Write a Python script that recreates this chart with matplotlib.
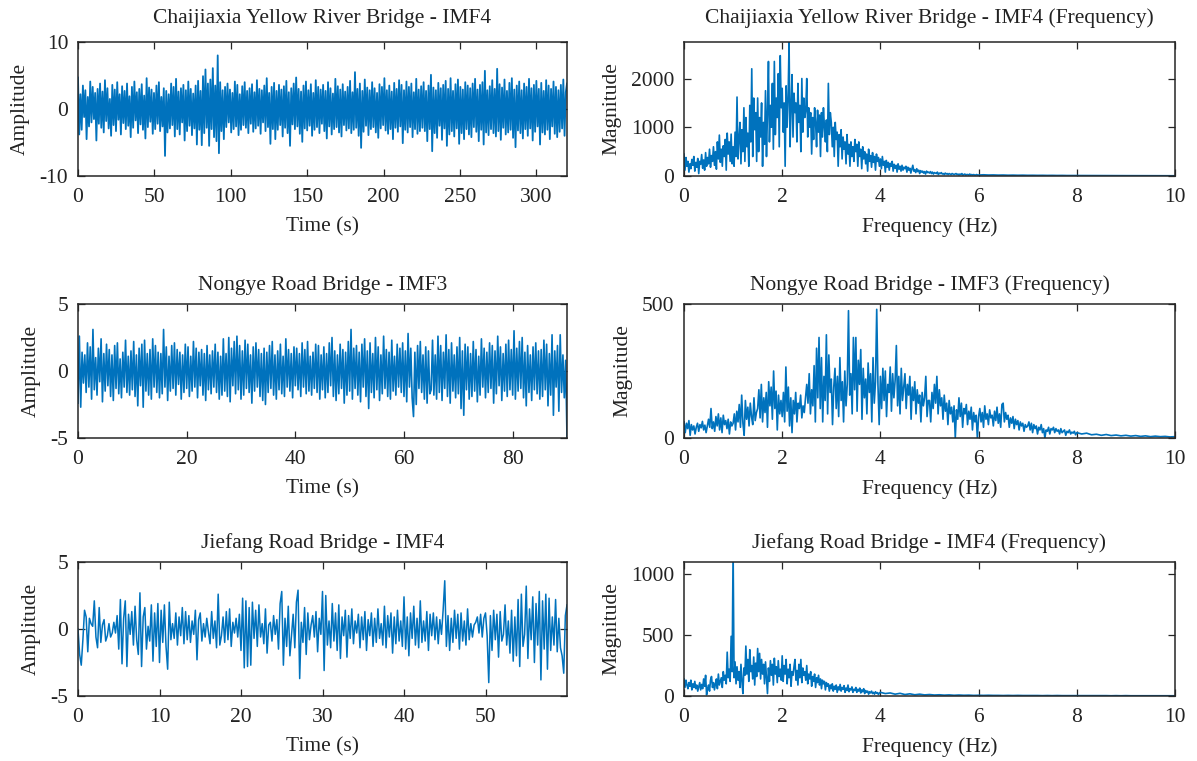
import numpy as np
import matplotlib
matplotlib.use("Agg")
import matplotlib.pyplot as plt

plt.rcParams['font.family'] = ['Liberation Serif', 'DejaVu Serif']
plt.rcParams['axes.unicode_minus'] = False

# ---------------- data ----------------
# Chaijiaxia IMF4, time signal, 0-320 s (tenths)
chai_time = [
 47,-38,22,-31,35,-12,28,-45,18,-26,41,-20,33,-15,24,-47,30,-22,38,-28,
 26,-35,43,-18,31,-29,15,-40,36,-24,29,-33,40,-16,22,-38,34,-21,27,-30,
 38,-25,19,-42,33,-28,41,-17,25,-36,30,-23,37,-31,20,-44,46,-27,32,-19,
 29,-37,24,-30,35,-22,40,-33,18,-26,31,-70,27,-35,22,-29,38,-24,33,-41,
 45,-30,26,-38,31,-20,36,-47,28,-33,41,-25,30,-39,23,-29,35,-53,42,-31,
 27,-54,49,-36,59,-28,38,-55,44,-30,61,-42,35,-48,80,-66,40,-33,28,-45,
 33,-27,38,-20,29,-35,24,-30,41,-26,36,-39,22,-31,34,-24,40,-28,27,-36,
 31,-22,37,-34,25,-29,43,-25,30,-37,28,-20,35,-33,46,-27,24,-52,33,-30,
 39,-45,27,-31,36,-24,29,-41,34,-28,42,-36,25,-55,31,-23,38,-30,47,-26,
 30,-37,26,-49,35,-29,41,-32,28,-25,37,-40,24,-31,43,-27,33,-36,29,-22,
 36,-33,27,-44,40,-26,31,-38,23,-30,45,-27,34,-35,29,-41,37,-24,26,-32,
 33,-29,42,-36,25,-31,55,-28,30,-40,38,-58,27,-34,44,-25,32,-39,28,-30,
 40,-27,31,-35,24,-43,37,-29,33,-24,46,-32,28,-37,35,-30,26,-45,39,-28,
 30,-34,43,-26,36,-51,28,-31,41,-35,33,-27,38,-42,25,-30,45,-37,29,-33,
 34,-28,40,-33,27,-48,35,-30,51,-63,32,-36,28,-43,39,-25,31,-46,36,-29,
 42,-55,30,-38,46,-33,27,-41,37,-29,44,-52,33,-36,29,-45,40,-30,35,-38,
 31,-42,38,-27,45,-34,29,-48,36,-31,40,-53,57,-35,28,-39,34,-30,43,-36,
 30,-41,60,-33,37,-46,32,-28,44,-38,27,-35,39,-31,46,-43,29,-57,35,-32,
 41,-36,28,-44,38,-30,33,-40,45,-29,31,-47,36,-34,42,-26,30,-53,39,-35,
 27,-38,43,-31,35,-45,30,-26,41,-37,33,-42,28,-34,36,-29,44,-40,25,38]

# Nongye IMF3, time signal, 0-90 s (tenths)
nong_time = [
 -24,26,-27,14,-9,12,-16,21,-12,18,-21,31,-14,10,-18,17,-8,24,-23,13,
 -15,20,-11,16,-19,12,-22,19,-13,21,-17,9,-20,14,-12,23,-16,11,-18,15,
 -14,22,-19,12,-26,17,-11,20,-27,23,-15,13,-18,16,-21,24,-12,19,-16,14,
 -20,13,-17,31,-12,18,-22,11,-15,19,-13,21,-18,16,-10,14,-21,12,-16,20,
 -13,18,-19,11,-15,22,-12,17,-20,14,-11,16,-18,13,-22,19,-14,12,-17,15,
 -12,20,-16,14,-21,11,-18,24,-15,13,-19,25,-23,17,-11,22,-17,26,-14,19,
 -21,15,-18,23,-13,20,-16,12,-24,18,-15,21,-12,16,-19,13,-22,17,-25,14,
 -16,19,-13,22,-18,12,-21,15,-14,20,-17,11,-19,24,-12,16,-15,13,-20,18,
 -11,17,-14,13,-19,21,-12,16,-17,22,-15,11,-18,14,-13,20,-16,19,-21,12,
 -14,18,-20,13,-16,21,-11,25,-19,15,-22,12,-17,20,-13,16,-24,14,-18,22,
 -15,31,-21,17,-13,19,-18,14,-23,20,-12,24,-19,15,-28,21,-16,13,-20,25,
 -14,18,-22,12,-17,26,-13,16,-19,14,-21,23,-15,11,-18,20,-12,17,-16,21,
 -19,15,-23,28,-12,17,-20,-34,14,-25,19,-13,22,-16,12,-21,18,-24,15,-17,
 -14,23,-18,12,-21,26,-16,19,-22,14,-13,27,-19,16,-24,21,-15,12,-20,18,
 -17,25,-28,15,-33,20,-14,18,-21,13,-19,22,-15,16,-23,11,-18,24,-12,17,
 -20,14,-16,21,-13,19,-24,15,-17,26,-11,18,-22,13,-15,20,-19,23,-14,16,
 -18,30,-21,17,-15,22,-13,25,-20,14,-26,19,-16,12,-22,18,-14,21,-17,15,
 -21,16,-19,23,-14,20,-26,13,-18,27,-33,15,-12,19,-30,27,-16,12,-20,8,
 -50]

# Jiefang IMF4, time signal, 0-60 s (tenths)
jie_time = [
 0,-19,-27,-8,14,9,-17,8,4,2,21,-6,-14,16,-10,3,7,-9,-5,4,-6,-3,5,-3,10,
 -15,22,-26,8,21,-28,11,-4,13,-12,17,-8,-19,27,-28,9,16,-15,2,-9,18,-24,12,-13,19,
 -25,14,-10,18,-13,-30,20,-8,4,-7,12,-12,9,-5,16,-11,13,-8,10,-10,6,-4,14,-23,7,
 12,-9,4,-6,8,-2,-11,13,-7,6,-14,26,-12,-5,9,-10,13,-8,15,-13,5,-3,8,-6,11,
 -16,23,-29,21,-28,16,-27,20,-7,14,-13,18,-6,4,-11,15,-18,3,5,-9,10,-4,7,-15,19,
 28,-27,8,-13,17,-20,-5,11,-14,20,29,-37,5,-10,16,-19,12,-8,3,10,-6,13,-17,8,-4,
 28,-31,25,-12,6,-14,19,-9,12,-16,18,-22,9,-5,14,-21,10,-7,15,-11,6,-3,11,-14,9,
 -8,13,-16,7,-5,12,-13,8,-10,15,-7,4,-12,17,-14,10,-6,12,-18,9,-11,14,-9,6,-13,
 24,-15,9,-20,12,-7,17,-12,8,-14,21,-10,6,-9,13,-16,11,-5,12,-8,9,-11,7,-4,14,
 36,-13,10,-16,8,-10,14,-7,11,-15,12,-9,6,-12,15,-8,4,-6,3,5,9,-3,11,-6,8,
 12,-5,-40,10,-16,14,-8,11,-21,13,-9,-4,18,-12,6,-18,14,-24,9,-20,22,-28,26,-13,-4,
 32,-22,15,-8,24,-25,19,-12,28,-38,21,-15,26,-30,23,-16,9,-12,22,-17,8,-14,-20,-33,10,
 18]

# Chaijiaxia spectrum: 0-6 Hz (units of 10), then 6.1-10 Hz (units of 1)
chai_freq_low = [
 45,12,38,20,30,8,25,15,34,22,40,10,28,18,36,5,30,24,44,16,33,12,48,20,38,
 25,55,18,42,30,60,22,50,14,70,35,84,28,55,20,62,40,75,12,88,45,70,30,86,25,
 60,20,90,40,162,35,75,110,25,95,50,140,30,120,60,88,20,145,70,220,40,160,95,130,30,
 160,50,120,80,150,20,110,65,175,40,130,235,70,145,100,190,55,235,85,160,120,210,60,247,140,
 180,90,150,20,185,100,160,274,60,140,208,80,170,130,150,70,190,110,145,50,200,90,160,120,135,
 200,80,140,100,130,45,120,75,140,110,60,135,90,125,40,130,80,140,100,70,115,50,190,85,130,
 110,60,100,40,110,75,90,20,85,60,95,35,80,55,70,25,85,45,65,20,70,40,60,30,75,
 50,65,20,70,40,55,15,60,35,50,25,45,10,55,30,42,18,48,28,40,12,45,30,38,20,
 35,15,40,22,30,8,32,18,28,12,26,20,30,10,24,16,22,8,25,14,20,10,22,12,18,
 15,20,8,18,12,16,6,14,22,10,13,7,15,9,12,5,11,8,10,6,9,4,10,7,8,
 6,9,5,8,4,7,6,5,8,3,6,5,7,4,5,3,6,4,5,3,5,4,3,5,4,
 3,4,5,3,4,2,4,3,5,2,3,4,2,3,3,2,4,2,3,2,3,2,2,3,2,
 2]
chai_freq_high = [25,20,22,18,20,16,18,15,17,14,15,13,14,12,13,11,12,10,11,10,
                  10,9,10,8,9,8,8,7,8,7,7,6,7,6,6,5,6,5,5,5]

# Nongye spectrum: 0-8 Hz, then 8.1-10 Hz
nong_freq_low = [
 60,20,55,35,65,10,50,30,45,15,40,55,25,50,38,62,30,48,20,45,
 70,40,110,35,60,25,80,45,90,30,75,20,85,50,65,35,70,15,60,45,
 55,90,30,100,60,125,40,160,55,10,140,70,115,45,130,80,50,150,65,95,
 110,180,75,200,60,150,95,170,40,210,120,190,70,250,110,175,30,160,90,140,
 80,170,60,265,100,190,45,150,20,140,90,170,60,130,110,160,75,120,95,150,
 200,130,240,90,180,120,270,60,335,150,375,110,300,60,230,140,385,90,310,170,
 220,50,190,260,110,230,80,300,140,210,60,250,120,200,475,160,240,90,375,180,
 375,100,290,200,330,70,260,150,220,90,280,170,240,60,300,130,210,480,200,50,
 230,110,260,140,250,80,200,170,265,100,240,150,215,345,120,230,90,260,140,190,
 240,110,200,160,230,70,190,140,210,90,180,130,160,60,170,120,150,230,80,140,
 140,60,170,110,200,130,230,90,180,120,150,70,160,100,130,50,140,90,115,60,
 120,0,105,70,150,80,130,40,110,90,125,50,100,70,115,30,95,60,85,0,
 80,110,60,95,40,120,70,90,50,105,75,85,45,100,65,115,55,90,40,125,
 130,60,95,70,85,40,75,55,80,35,70,50,65,30,60,45,55,25,50,40,
 45,60,30,55,20,50,35,45,15,40,30,50,20,35,0,30,25,40,15,35,
 30,40,20,35,25,30,15,35,20,25,30,10,25,20,30,15,22,18,25,12,
 20]
nong_freq_high = [15,18,12,14,10,13,9,11,8,10,7,9,6,8,5,7,5,6,4,5]

# Jiefang spectrum: 0-4 Hz, then 4.1-10 Hz
jie_freq_low = [
 140,70,130,90,60,110,80,130,50,100,70,120,60,90,40,75,110,50,95,60,140,80,170,10,60,
 90,40,130,160,70,110,50,100,140,60,180,90,120,150,70,200,130,170,100,360,150,220,120,490,200,
 1200,150,280,100,240,130,200,70,260,120,20,230,170,410,180,300,120,380,200,250,140,320,90,270,160,
 390,200,350,140,300,180,260,100,280,150,20,230,120,290,170,260,90,310,180,240,110,290,160,220,130,
 330,120,250,180,300,100,220,150,260,80,200,170,240,300,130,210,90,260,150,300,110,230,170,200,130,
 250,100,180,140,200,80,160,120,180,70,150,110,170,90,140,60,130,100,120,50,110,80,100,40,90,
 60,100,40,80,55,90,30,75,50,95,40,70,55,85,30,65,45,90,35,60,50,75,30,55,45,
 70,30,55,40,65,25,50,35,60,20,45,30,40,15,35,25,40,20,30,15,35,22,28,12,25,
 30]
jie_freq_high = [20,25,15,22,12,18,10,15,9,12,8,10,7,9,6,8,6,7,5,6,
                 5,6,5,5,4,5,4,5,4,4,4,4,3,4,3,4,3,3,3,3,
                 3,3,3,3,3,3,2,3,2,3,2,2,2,2,2,2,2,2,2,2]

titles_time = ["Chaijiaxia Yellow River Bridge - IMF4", "Nongye Road Bridge - IMF3",
               "Jiefang Road Bridge - IMF4"]
titles_freq = [t + " (Frequency)" for t in titles_time]
time_end = [320, 90, 60]
time_ylim = [10, 5, 5]
time_ticks = [[0, 50, 100, 150, 200, 250, 300], [0, 20, 40, 60, 80], [0, 10, 20, 30, 40, 50]]
freq_ylim = [2750, 500, 1100]
freq_yticks = [[0, 1000, 2000], [0, 500], [0, 500, 1000]]

# ---------------- build series ----------------
time_series = []
for vals, end in zip([chai_time, nong_time, jie_time], time_end):
    y = np.array(vals, float) / 10.0
    x = np.linspace(0, end, len(y))
    time_series.append((x, y))

freq_series = []
for low, high, lend, lscale in [(chai_freq_low, chai_freq_high, 6.0, 10.0),
                                (nong_freq_low, nong_freq_high, 8.0, 1.0),
                                (jie_freq_low, jie_freq_high, 4.0, 1.0)]:
    xl = np.linspace(0, lend, len(low))
    xh = np.linspace(lend + 0.1, 10.0, len(high))
    x = np.concatenate([xl, xh])
    y = np.concatenate([np.array(low, float) * lscale, np.array(high, float)])
    freq_series.append((x, y))

# ---------------- figure ----------------
W, H = 1197, 761
fig = plt.figure(figsize=(W / 100, H / 100), dpi=100)
blue = '#0072BD'
edge = '#262626'
txt = '#222222'
fs = 15.5

rows_px = [(42, 176), (304, 438), (562, 696)]
left_px = (78, 567)
right_px = (684, 1175)
line_w = [1.3, 1.2, 1.1]
title_pad = [13.5, 10, 10]

def make_ax(xpx, ypx):
    l = xpx[0] / W
    w = (xpx[1] - xpx[0]) / W
    b = 1 - ypx[1] / H
    h = (ypx[1] - ypx[0]) / H
    ax = fig.add_axes([l, b, w, h])
    for s in ax.spines.values():
        s.set_color(edge)
        s.set_linewidth(1.1)
    ax.tick_params(direction='in', top=True, right=True, length=5, width=0.9,
                   colors=edge, labelsize=fs, labelcolor=txt)
    ax.tick_params(axis='x', pad=9)
    ax.tick_params(axis='y', pad=7)
    return ax

for r in range(3):
    ax = make_ax(left_px, rows_px[r])
    x, y = time_series[r]
    ax.plot(x, y, color=blue, lw=line_w[r])
    ax.set_xlim(0, time_end[r])
    ax.set_ylim(-time_ylim[r], time_ylim[r])
    ax.set_yticks([-time_ylim[r], 0, time_ylim[r]])
    ax.set_xticks(time_ticks[r])
    ax.set_title(titles_time[r], fontsize=fs, color=txt, pad=title_pad[r])
    ax.set_xlabel("Time (s)", fontsize=fs, color=txt, labelpad=7)
    ax.set_ylabel("Amplitude", fontsize=fs, color=txt, labelpad=7)

    ax2 = make_ax(right_px, rows_px[r])
    x, y = freq_series[r]
    ax2.plot(x, y, color=blue, lw=1.2)
    ax2.set_xlim(0, 10)
    ax2.set_ylim(0, freq_ylim[r])
    ax2.set_xticks([0, 2, 4, 6, 8, 10])
    ax2.set_yticks(freq_yticks[r])
    ax2.set_title(titles_freq[r], fontsize=fs, color=txt, pad=title_pad[r])
    ax2.set_xlabel("Frequency (Hz)", fontsize=fs, color=txt, labelpad=7)
    ax2.set_ylabel("Magnitude", fontsize=fs, color=txt, labelpad=7)

fig.savefig("out.png", dpi=100)
